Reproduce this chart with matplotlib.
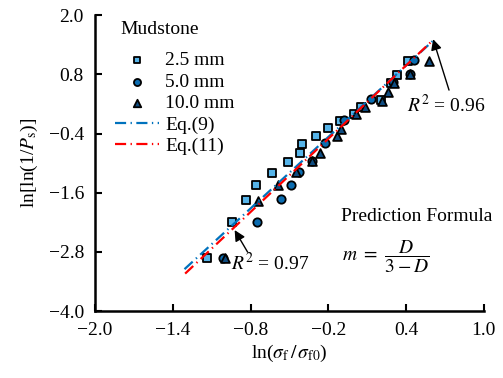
import matplotlib.pyplot as plt

plt.rcParams['font.family'] = ['Liberation Serif', 'DejaVu Serif']
plt.rcParams['mathtext.fontset'] = 'stix'

# ln(sigma_f/sigma_f0) vs ln[ln(1/Ps)] for three particle sizes
x_25 = [-1.138, -0.946, -0.838, -0.762, -0.631, -0.508, -0.418, -0.400, -0.292,
        -0.200, -0.108, 0.000, 0.054, 0.208, 0.282, 0.331, 0.415]
y_25 = [-2.926, -2.196, -1.750, -1.446, -1.203, -0.980, -0.797, -0.615, -0.453,
        -0.291, -0.149, -0.007, 0.135, 0.277, 0.622, 0.794, 1.078]

x_50 = [-1.015, -0.754, -0.562, -0.485, -0.423, -0.330, -0.223, -0.077, 0.128,
        0.300, 0.431, 0.462]
y_50 = [-2.926, -2.196, -1.730, -1.450, -1.180, -0.950, -0.595, -0.128, 0.291,
        0.640, 0.804, 1.088]

x_100 = [-1.000, -0.746, -0.585, -0.446, -0.323, -0.262, -0.131, -0.100, 0.015,
         0.085, 0.215, 0.262, 0.308, 0.431, 0.577]
y_100 = [-2.926, -1.765, -1.446, -1.183, -0.960, -0.797, -0.453, -0.310, -0.007,
         0.135, 0.257, 0.439, 0.622, 0.804, 1.068]

# fitted lines (end points)
eq9_x = [-1.31, 0.62]
eq9_y = [-3.15, 1.51]
eq11_x = [-1.305, 0.61]
eq11_y = [-3.24, 1.50]

fs = 14

fig = plt.figure(figsize=(5.03, 3.78), dpi=100)
ax = fig.add_axes([0.189, 0.177, 0.773, 0.783])

ax.scatter(x_25, y_25, marker='s', s=34, facecolor='#56B4E9', edgecolor='black',
           linewidth=1.3, label='2.5 mm', zorder=3)
ax.scatter(x_50, y_50, marker='o', s=36, facecolor='#0B6CB0', edgecolor='black',
           linewidth=1.3, label='5.0 mm', zorder=3)
ax.scatter(x_100, y_100, marker='^', s=40, facecolor='#0F4C81', edgecolor='black',
           linewidth=1.3, label='10.0 mm', zorder=3)

ax.plot(eq9_x, eq9_y, color='#0072BD', lw=1.6, dashes=(5, 2, 0.6, 2),
        label='Eq.(9)', zorder=4)
ax.plot(eq11_x, eq11_y, color='#FF0000', lw=1.6, dashes=(5, 2, 0.6, 2),
        label='Eq.(11)', zorder=4)

ax.set(xlim=(-2.0, 1.0), ylim=(-4.0, 2.0))
ax.set_xticks([-2.0, -1.4, -0.8, -0.2, 0.4, 1.0])
ax.set_yticks([-4.0, -2.8, -1.6, -0.4, 0.8, 2.0])
ax.xaxis.set_major_formatter(lambda v, p: f'{v:.1f}'.replace('-', '\u2212'))
ax.yaxis.set_major_formatter(lambda v, p: f'{v:.1f}'.replace('-', '\u2212'))
ax.tick_params(direction='in', length=5, width=1.5, labelsize=fs, pad=8)

ax.spines['top'].set_visible(False)
ax.spines['right'].set_visible(False)
ax.spines['left'].set_linewidth(1.8)
ax.spines['bottom'].set_linewidth(1.8)

ax.set_xlabel(r'ln($\sigma_{\mathrm{f}}\,/\,\sigma_{\mathrm{f0}}$)', size=fs, labelpad=3)
ax.set_ylabel(r'ln[ln(1/$P_{\mathrm{s}}$)]', size=fs, labelpad=6)

# legend title drawn separately so the gap above the entries can be set
ax.text(0.064, 0.952, 'Mudstone', transform=ax.transAxes, size=fs,
        ha='left', va='center')
ax.legend(loc='upper left', bbox_to_anchor=(0.05, 0.877), frameon=False,
          fontsize=fs, handlelength=2.3, handletextpad=0.3, labelspacing=0.2,
          borderpad=0, borderaxespad=0, markerscale=0.85)

ax.text(0.708, 0.176, r'$R^2$ = 0.96', ha='center', va='center', size=fs)
ax.annotate('', xy=(0.608, 1.513), xytext=(0.731, 0.48),
            arrowprops=dict(arrowstyle='-|>', color='black', lw=1.0,
                            mutation_scale=16, shrinkA=0, shrinkB=0))
ax.text(-0.646, -3.027, r'$R^2$ = 0.97', ha='center', va='center', size=fs)
ax.annotate('', xy=(-0.923, -2.358), xytext=(-0.823, -2.804),
            arrowprops=dict(arrowstyle='-|>', color='black', lw=1.0,
                            mutation_scale=16, shrinkA=0, shrinkB=0))

ax.text(1.062, -2.075, 'Prediction Formula', ha='right', va='center', size=fs)
ax.text(0.24, -2.906, r'$m\ =\ \dfrac{D}{3 - D}$', ha='center', va='center',
        size=fs)

fig.savefig('out.png', dpi=100)
